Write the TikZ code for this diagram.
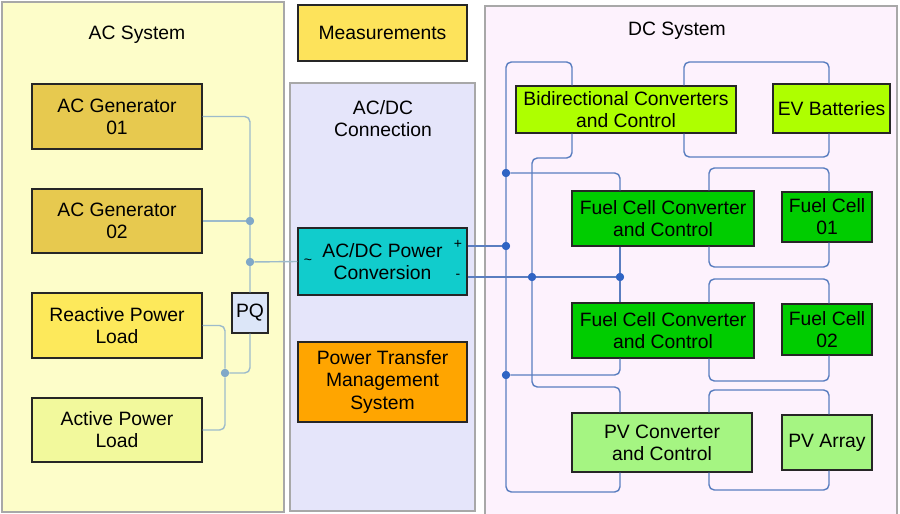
\documentclass[tikz,border=0pt]{standalone}
\usepackage{fontspec}
\setmainfont{Liberation Sans}
\usetikzlibrary{shadows}
\definecolor{acbg}{HTML}{FDFDC9}
\definecolor{midbg}{HTML}{E5E5FA}
\definecolor{dcbg}{HTML}{FDF2FD}
\definecolor{gen}{HTML}{E7C94F}
\definecolor{react}{HTML}{FDE95B}
\definecolor{act}{HTML}{F2F99C}
\definecolor{meas}{HTML}{FDE35B}
\definecolor{pqc}{HTML}{DCE6F8}
\definecolor{cyanb}{HTML}{11CCCC}
\definecolor{orangeb}{HTML}{FFA500}
\definecolor{limeb}{HTML}{AEFF00}
\definecolor{greenb}{HTML}{00CC00}
\definecolor{pvb}{HTML}{A5F582}
\definecolor{acwire}{HTML}{9DBBCB}
\definecolor{acdot}{HTML}{80A8C8}
\definecolor{dcwire}{HTML}{5A7EC0}
\definecolor{dcdot}{HTML}{2F64C4}
\definecolor{frame}{HTML}{A8A8A8}
\tikzset{
  bx/.style n args={3}{draw=black!85, line width=0.6pt, fill=#1,
    minimum width=#2*0.02cm, minimum height=#3*0.02cm, inner sep=1pt,
    align=center, font=\fontsize{11}{12.6}\selectfont,
    drop shadow={shadow xshift=0.8pt, shadow yshift=-0.8pt, opacity=0.35}},
  container/.style={draw=frame, line width=0.6pt},
  lbl/.style={align=center, font=\fontsize{11}{12.6}\selectfont},
  acw/.style={draw=acwire, line width=0.8pt, rounded corners=3pt},
  dcw/.style={draw=dcwire, line width=0.8pt, rounded corners=3pt},
  acd/.style={circle, fill=acdot, inner sep=0pt, minimum size=4.6pt},
  dcd/.style={circle, fill=dcdot, inner sep=0pt, minimum size=4.6pt},
  small/.style={font=\fontsize{8}{9}\selectfont, inner sep=0pt}
}
\begin{document}
\begin{tikzpicture}[x=0.02cm,y=-0.02cm]
\useasboundingbox (0,0) rectangle (900,514);
\fill[white] (0,0) rectangle (900,514);
% containers
\draw[container, fill=acbg] (2,2) rectangle (284,512);
\draw[container, fill=midbg] (290,83) rectangle (475,511);
\draw[container, fill=dcbg] (485,6) rectangle (897,520);
\node[lbl] (acsys) at (137,34.5) {AC System};
\node[lbl] (acdcl) at (383,119) {AC/DC\\Connection};
\node[lbl] (dcsys) at (677,31) {DC System};
% AC boxes
\node[bx={gen}{170}{65}] (g1) at (117,116.5) {AC Generator\\01};
\node[bx={gen}{170}{64}] (g2) at (117,221) {AC Generator\\02};
\node[bx={react}{170}{65}] (rl) at (117,325.5) {Reactive Power\\Load};
\node[bx={act}{170}{64}] (al) at (117,430) {Active Power\\Load};
\node[bx={pqc}{36}{40}] (pq) at (250,313) {PQ};
% middle boxes
\node[bx={meas}{169}{56}] (meas) at (382.5,33) {Measurements};
\node[bx={cyanb}{169}{67}] (acdc) at (382.5,261.5) {AC/DC Power\\Conversion};
\node[bx={orangeb}{169}{80}] (ptm) at (382.5,382) {Power Transfer\\Management\\System};
\node[small] (tilde) at (308,262) {\textasciitilde};
\node[small] (plus) at (458,244) {+};
\node[small] (minus) at (458,276) {-};
% DC boxes
\node[bx={limeb}{220}{47}] (bi) at (626,109.5) {Bidirectional Converters\\and Control};
\node[bx={limeb}{117}{49}] (ev) at (831.5,108.5) {EV Batteries};
\node[bx={greenb}{182}{55}] (fc1) at (663,218.5) {Fuel Cell Converter\\and Control};
\node[bx={greenb}{90}{50}] (fcell1) at (827,217) {Fuel Cell\\01};
\node[bx={greenb}{182}{55}] (fc2) at (663,330.5) {Fuel Cell Converter\\and Control};
\node[bx={greenb}{90}{51}] (fcell2) at (827,329.5) {Fuel Cell\\02};
\node[bx={pvb}{180}{59}] (pv) at (662,442.5) {PV Converter\\and Control};
\node[bx={pvb}{90}{55}] (pva) at (827,442.5) {PV Array};
% AC wiring
\draw[acw] (g1.east) -| (pq.north);
\node[acd] (da) at (250,221) {};
\node[acd] (db) at (250,262) {};
\node[acd] (dc) at (225,373) {};
\draw[acw] (g2.east) -- (da);
\draw[acw] (db) -- (acdc.west);
\draw[acw] (pq.south) |- (dc);
\draw[acw] (rl.east) -| (dc) |- (al.east);
% DC wiring
\node[dcd] (d1) at (506,173) {};
\node[dcd] (d2) at (506,246) {};
\node[dcd] (d3) at (532,277) {};
\node[dcd] (d4) at (620,277) {};
\node[dcd] (d5) at (506,375) {};
\draw[dcw] (572,0 |- bi.north) |- (506,62) |- (620,492) -- (620,0 |- pv.south);
\draw[dcw] (572,0 |- bi.south) |- (532,158) |- (620,387) -- (620,0 |- pv.north);
\draw[dcw] (d1) -| (620,0 |- fc1.north);
\draw[dcw] (acdc.east |- d2) -- (d2);
\draw[dcw] (acdc.east |- d3) -- (d3) -- (d4);
\draw[dcw] (620,0 |- fc1.south) -- (620,0 |- fc2.north);
\draw[dcw] (620,0 |- fc2.south) |- (d5);
\draw[dcw] (684,0 |- bi.north) |- (829,62) -- (829,0 |- ev.north);
\draw[dcw] (684,0 |- bi.south) |- (829,157) -- (829,0 |- ev.south);
\draw[dcw] (709,0 |- fc1.north) |- (829,168) -- (829,0 |- fcell1.north);
\draw[dcw] (709,0 |- fc1.south) |- (829,267) -- (829,0 |- fcell1.south);
\draw[dcw] (709,0 |- fc2.north) |- (829,279) -- (829,0 |- fcell2.north);
\draw[dcw] (709,0 |- fc2.south) |- (829,381) -- (829,0 |- fcell2.south);
\draw[dcw] (709,0 |- pv.north) |- (829,390) -- (829,0 |- pva.north);
\draw[dcw] (709,0 |- pv.south) |- (829,490) -- (829,0 |- pva.south);
% redraw dots on top
\foreach \n in {d1,d2,d3,d4,d5} \fill[dcdot] (\n) circle (2.3pt);
\foreach \n in {da,db,dc} \fill[acdot] (\n) circle (2.3pt);
\end{tikzpicture}
\end{document}
